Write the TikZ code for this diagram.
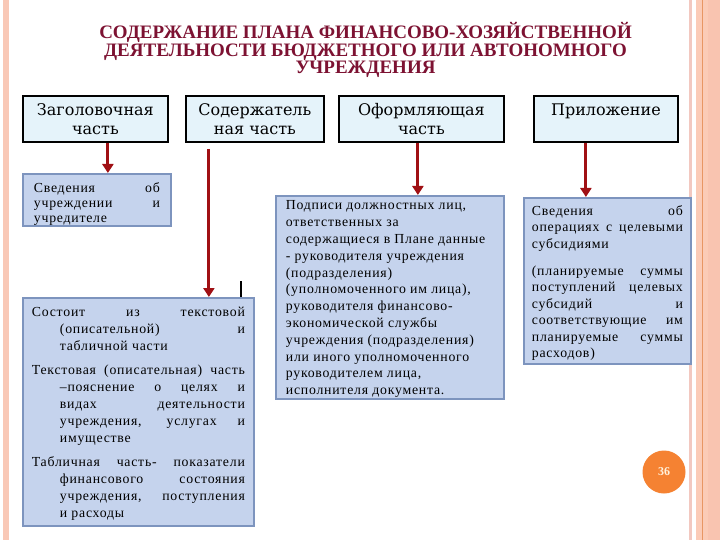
\documentclass[tikz,border=0pt]{standalone}
\usepackage{fontspec}
\setmainfont{Liberation Serif}[BoldFont={Liberation Serif Bold}]
\newfontfamily\bodyf[LetterSpace=5.5]{Liberation Serif}
\newfontfamily\headf{DejaVu Serif}
\usetikzlibrary{arrows.meta}
\definecolor{titlered}{RGB}{125,18,50}
\definecolor{headfill}{RGB}{229,243,250}
\definecolor{subfill}{RGB}{197,211,237}
\definecolor{subedge}{RGB}{125,148,190}
\definecolor{arrowred}{RGB}{160,16,20}
\definecolor{stripeA}{RGB}{249,200,182}
\definecolor{stripeB}{RGB}{242,200,192}
\definecolor{stripeC}{RGB}{251,203,183}
\definecolor{stripeD}{RGB}{249,196,176}
\definecolor{stripeline}{RGB}{232,150,100}
\definecolor{badge}{RGB}{245,130,50}
\definecolor{badgetext}{RGB}{255,242,220}
\newcommand\bodysz[1]{\fontsize{13.8}{#1}\selectfont\bodyf}
\newcommand\mybx[4]{\begin{minipage}[c][#2][t]{#1}\bodysz{#3}\setlength\parindent{0pt}\rule{0pt}{10pt}#4\end{minipage}}
\newcommand\jl[2]{\makebox[#1][s]{#2}}
\begin{document}
\begin{tikzpicture}[x=1pt,y=-1pt,
  hbox/.style={draw=black, line width=1.8pt, fill=headfill, inner sep=0pt, align=center,
    font={\fontsize{16}{19}\selectfont\headf}, anchor=north west},
  sbox/.style={draw=subedge, line width=1.8pt, fill=subfill, inner sep=0pt, anchor=north west},
  arr/.style={draw=arrowred, line width=3pt, -{Triangle[width=11pt,length=9pt]}},
  stub/.style={draw=black, line width=2.5pt},
]
\useasboundingbox (0,0) rectangle (720,540);
\fill[white] (0,0) rectangle (720,540);
% side stripes
\fill[stripeA] (3,0) rectangle (9,540);
\fill[stripeB] (689,0) rectangle (692,540);
\fill[stripeC] (696,0) rectangle (720,540);
\fill[stripeD] (708,0) rectangle (720,540);
\draw[stripeline, line width=1pt] (702.5,0) -- (702.5,540);

% title
\node[font={\fontsize{19}{16}\selectfont\bfseries}, text=titlered, align=center, anchor=north]
  (title) at (365.5,19) {СОДЕРЖАНИЕ ПЛАНА ФИНАНСОВО-ХОЗЯЙСТВЕННОЙ\\ДЕЯТЕЛЬНОСТИ БЮДЖЕТНОГО ИЛИ АВТОНОМНОГО\\УЧРЕЖДЕНИЯ};

% header boxes
\node[hbox, minimum width=145pt, minimum height=46pt] (h1) at (22,95) {Заголовочная\\часть};
\node[hbox, minimum width=138pt, minimum height=46pt] (h2) at (185,95) {Содержатель\\ная часть};
\node[hbox, minimum width=165pt, minimum height=46pt] (h3) at (338,95) {Оформляющая\\часть};
\node[hbox, minimum width=144pt, minimum height=46pt] (h4) at (533,95) {Приложение\\\phantom{ч}};

% sub boxes
\node[sbox, minimum width=148pt, minimum height=52pt] (s1) at (22,173)
  {\mybx{126pt}{35pt}{15pt}{\jl{126pt}{Сведения об}\\\jl{126pt}{учреждении и}\\учредителе}};

\node[sbox, minimum width=231pt, minimum height=228pt] (s2) at (22,297)
  {\mybx{213pt}{211pt}{17.2pt}{%
  \jl{213pt}{Состоит из текстовой}\\
  \hspace*{28pt}\jl{185pt}{(описательной) и}\\
  \hspace*{28pt}табличной части\par\vspace{6pt}
  \jl{213pt}{Текстовая (описательная) часть}\\
  \hspace*{28pt}\jl{185pt}{–пояснение о целях и}\\
  \hspace*{28pt}\jl{185pt}{видах деятельности}\\
  \hspace*{28pt}\jl{185pt}{учреждения, услугах и}\\
  \hspace*{28pt}имуществе\par\vspace{6pt}
  \jl{213pt}{Табличная часть- показатели}\\
  \hspace*{28pt}\jl{185pt}{финансового состояния}\\
  \hspace*{28pt}\jl{185pt}{учреждения, поступления}\\
  \hspace*{28pt}и расходы}};

\node[sbox, minimum width=228pt, minimum height=203pt] (s3) at (275,195)
  {\mybx{208pt}{195pt}{16.8pt}{%
  Подписи должностных лиц,\\
  ответственных за\\
  содержащиеся в Плане данные\\
  - руководителя учреждения\\
  (подразделения)\\
  (уполномоченного им лица),\\
  руководителя финансово-\\
  экономической службы\\
  учреждения (подразделения)\\
  или иного уполномоченного\\
  руководителем лица,\\
  исполнителя документа.}};

\node[sbox, minimum width=167pt, minimum height=166pt] (s4) at (523,197)
  {\mybx{151pt}{151pt}{16.5pt}{%
  \jl{151pt}{Сведения об}\\
  \jl{151pt}{операциях с целевыми}\\
  субсидиями\par\vspace{10.5pt}
  \jl{151pt}{(планируемые суммы}\\
  \jl{151pt}{поступлений целевых}\\
  \jl{151pt}{субсидий и}\\
  \jl{151pt}{соответствующие им}\\
  \jl{151pt}{планируемые суммы}\\
  расходов)}};

% connectors
\draw[arr] ([xshift=12.5pt]h1.south) -- ([xshift=12.5pt]h1.south |- s1.north);
\draw[arr] ([xshift=-46pt,yshift=-6pt]h2.south) -- ([xshift=-46pt]h2.south |- s2.north);
\draw[arr] ([xshift=-3.5pt]h3.south) -- ([xshift=-3.5pt]h3.south |- s3.north);
\draw[arr] ([xshift=-20pt]h4.south) -- ([xshift=-20pt]h4.south |- s4.north);
\coordinate (stubtop) at (241,281);
\draw[stub] (stubtop) -- (stubtop |- s2.north);

% page number badge
\node[circle, fill=badge, minimum size=43pt, inner sep=0pt, text=badgetext,
  font={\fontsize{12}{12}\selectfont\bfseries}] (pg) at (664,472) {36};
\end{tikzpicture}
\end{document}
